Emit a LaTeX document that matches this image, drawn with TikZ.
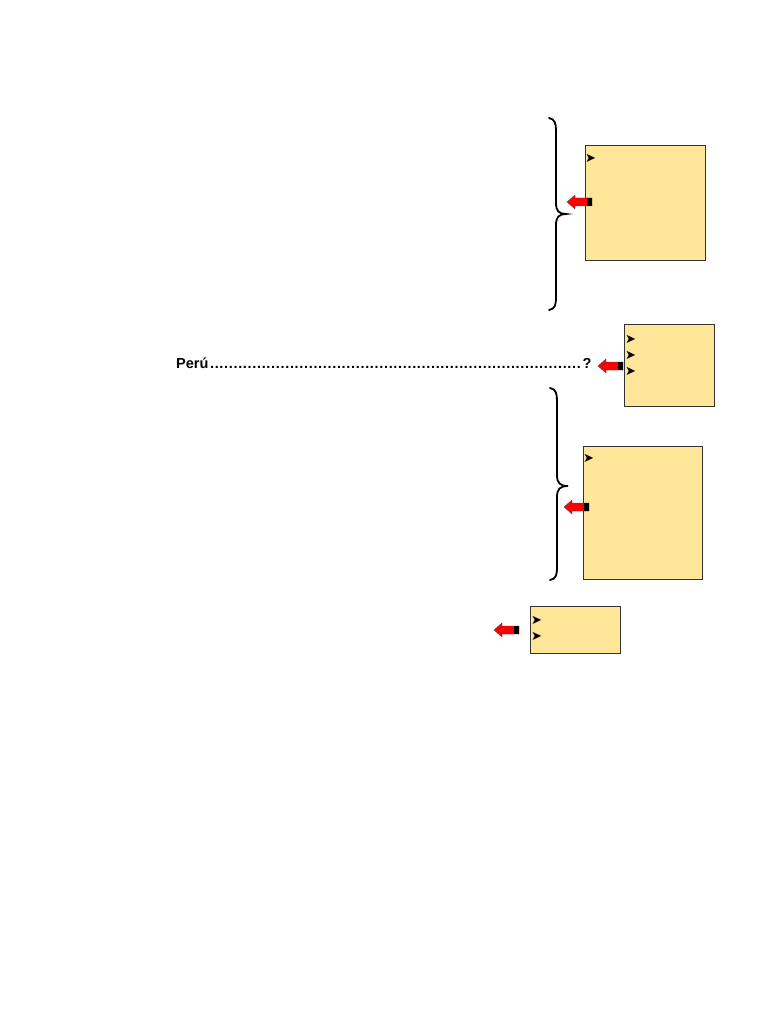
\documentclass[tikz,border=0pt]{standalone}
\usepackage{fontspec}
\setmainfont{Liberation Sans}
\newfontfamily\symfont{DejaVu Sans}
\definecolor{boxfill}{HTML}{FFE699}
\definecolor{arrred}{HTML}{FF0000}
\tikzset{
  notebox/.style={draw=black!80, line width=0.9pt, fill=boxfill, inner sep=0pt, anchor=north west},
  bul/.style={font=\symfont\fontsize{13}{13}\selectfont, inner sep=0pt, anchor=west, text height=5pt, text depth=4pt, yshift=-4pt},
  bracepath/.style={line width=1.8pt, line cap=round},
  pics/blockarrow/.style={code={
    \fill[arrred, draw=black!70, line width=0.4pt] (-25,0) -- (-17,-7) -- (-17,-4) -- (0,-4) -- (0,4) -- (-17,4) -- (-17,7) -- cycle;
    \fill[black] (-5,-4) rectangle (0,4);
  }}
}
\begin{document}
\begin{tikzpicture}[x=1pt,y=-1pt]
\useasboundingbox (0,0) rectangle (768,1024);
% boxes
\node[notebox, minimum width=120pt, minimum height=115pt] (b1) at (585,145) {};
\node[notebox, minimum width=90pt, minimum height=82pt] (b2) at (624,324) {};
\node[notebox, minimum width=119pt, minimum height=133pt] (b3) at (583,446) {};
\node[notebox, minimum width=90pt, minimum height=47pt] (b4) at (530,606) {};
% bullets
\node[bul] (m1) at (585,158) {➤};
\node[bul] (m2a) at (625,339) {➤};
\node[bul] (m2b) at (625,355) {➤};
\node[bul] (m2c) at (625,371) {➤};
\node[bul] (m3) at (583,458) {➤};
\node[bul] (m4a) at (531,620) {➤};
\node[bul] (m4b) at (531,636) {➤};
% braces
\draw[bracepath] (549,118) .. controls (555,119) and (556,124) .. (556,131) -- (556,203)
  .. controls (556,211) and (559,214) .. (566,214) .. controls (559,214) and (556,217) .. (556,225)
  -- (556,297) .. controls (556,305) and (555,309) .. (549,310);
\draw[bracepath] (550,388) .. controls (556,389) and (557,394) .. (557,401) -- (557,475)
  .. controls (557,483) and (560,486) .. (568,486) .. controls (560,486) and (557,489) .. (557,497)
  -- (557,567) .. controls (557,575) and (556,579) .. (550,580);
% arrows
\pic at (592,202) {blockarrow};
\pic at (623,366) {blockarrow};
\pic at (589,507) {blockarrow};
\pic at (519,630) {blockarrow};
% text
\node[anchor=base west, inner sep=0pt, font=\bfseries\fontsize{14.5}{16}\selectfont] (peru) at (176,368)
  {\makebox[415pt][l]{Perú\cleaders\hbox to 4.7pt{\hss.\hss}\hfill?}};
\end{tikzpicture}
\end{document}
